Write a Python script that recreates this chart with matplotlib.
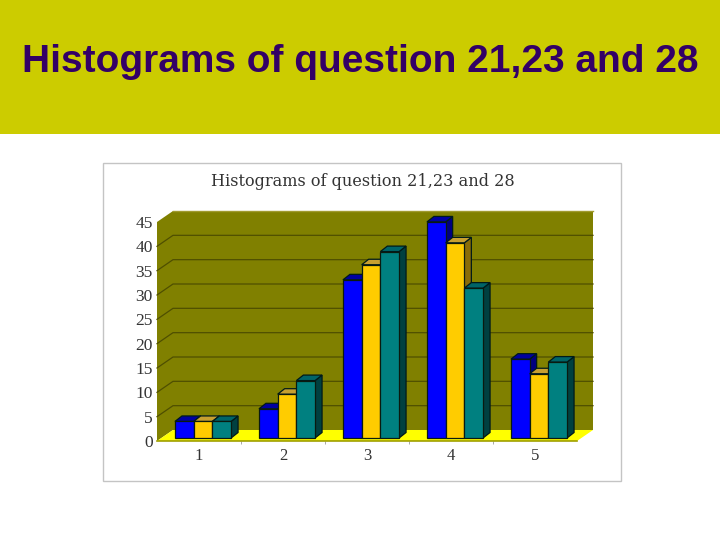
import matplotlib
matplotlib.use("Agg")
import matplotlib.pyplot as plt
from matplotlib.patches import Polygon, Rectangle

categories = ["1", "2", "3", "4", "5"]
q21 = [3.4, 6.0, 32.5, 44.4, 16.2]
q23 = [3.4, 9.0, 35.6, 40.1, 13.2]
q28 = [3.4, 11.8, 38.3, 30.8, 15.6]
y_ticks = [0, 5, 10, 15, 20, 25, 30, 35, 40, 45]

W, H = 720, 540
# faces: front, top, side
BLUE = ("#0000ff", "#0000a0", "#000080")
YELLOW = ("#ffcc00", "#c8a030", "#8a6d08")
TEAL = ("#008080", "#006468", "#004040")

fig = plt.figure(figsize=(W / 100, H / 100), dpi=100, facecolor="white")

# pasek tytulu i ramka wykresu
fig.add_artist(Rectangle((0, 1 - 134 / H), 1, 134 / H, transform=fig.transFigure,
                         facecolor="#cccc00", edgecolor="none", zorder=-2))
fig.add_artist(Rectangle((103.5 / W, 1 - 480.5 / H), 518 / W, 318 / H, transform=fig.transFigure,
                         facecolor="white", edgecolor="#c4c4c4", linewidth=1, zorder=-2))
fig.text(360 / W, 1 - 62 / H, "Histograms of question 21,23 and 28", ha="center", va="center",
         family="Liberation Sans", fontweight="bold", fontsize=28, color="#330066")
fig.text(363 / W, 1 - 182 / H, "Histograms of question 21,23 and 28", ha="center", va="center",
         family="DejaVu Serif", fontsize=11.6, color="#333333")

ax = fig.add_axes([157 / W, 1 - 441 / H, 420 / W, 219 / H])
ax.set_xlim(0, len(categories))
ax.set_ylim(0, y_ticks[-1])
ax.patch.set_visible(False)
for s in ax.spines.values():
    s.set_visible(False)

ymax = y_ticks[-1]
nx = len(categories)
px_x = nx / 420
px_y = ymax / 219
dx, dy = 16 * px_x, 11 * px_y    # glebokosc scian


def poly(pts, color, z, edge="none", lw=0):
    ax.add_patch(Polygon(pts, closed=True, facecolor=color, edgecolor=edge, linewidth=lw,
                         zorder=z, clip_on=False))


# sciany i podloga
poly([(dx, dy), (nx + dx, dy), (nx + dx, ymax + dy), (dx, ymax + dy)], "#808000", 1)
poly([(0, 0), (dx, dy), (dx, ymax + dy), (0, ymax)], "#808000", 1)
poly([(0, 0), (nx, 0), (nx + dx, dy), (dx, dy)], "#ffff00", 1)
ax.plot([0, nx], [0, 0], color="#a0a000", lw=1.2, zorder=2, clip_on=False)
ax.plot([dx, nx + dx], [ymax + dy, ymax + dy], color="#a09a30", lw=1, zorder=2, clip_on=False)

for t in y_ticks[1:-1]:
    ax.plot([0, dx, nx + dx], [t, t + dy, t + dy], color="#4f4f00", lw=0.9, zorder=2, clip_on=False)

# slupki
bw = 18.7 * px_x
off_x, off_y = 4 * px_x, 3 * px_y
bdx, bdy = 7 * px_x, 5.5 * px_y
z = 3
for i in range(nx):
    cx = i + 0.5 + off_x
    for j, (vals, cols) in enumerate([(q21, BLUE), (q23, YELLOW), (q28, TEAL)]):
        v = vals[i]
        x0 = cx + (j - 1.5) * bw
        x1 = x0 + bw
        y0, y1 = off_y, off_y + v
        poly([(x1, y0), (x1 + bdx, y0 + bdy), (x1 + bdx, y1 + bdy), (x1, y1)], cols[2], z, "#001a1a", 0.9)
        poly([(x0, y1), (x1, y1), (x1 + bdx, y1 + bdy), (x0 + bdx, y1 + bdy)], cols[1], z, "#001a1a", 0.9)
        ax.bar(x0, v, width=bw, bottom=y0, align="edge", color=cols[0], edgecolor="#0a1a10",
               linewidth=0.9, zorder=z + 0.5, clip_on=False)
        z += 1

ax.set_xticks([i + 0.5 for i in range(nx)])
ax.set_xticklabels(categories, family="Liberation Serif", fontsize=12, color="#333333")
ax.set_xticks(list(range(1, nx)), minor=True)
ax.tick_params(axis="x", which="major", length=0, pad=5)
ax.tick_params(axis="x", which="minor", length=2, color="#999999")
ax.set_yticks(y_ticks)
ax.set_yticklabels([str(t) for t in y_ticks], family="Liberation Serif", fontsize=12.5, color="#333333")
ax.tick_params(axis="y", length=0, pad=3)

fig.savefig("out.png", dpi=100)
